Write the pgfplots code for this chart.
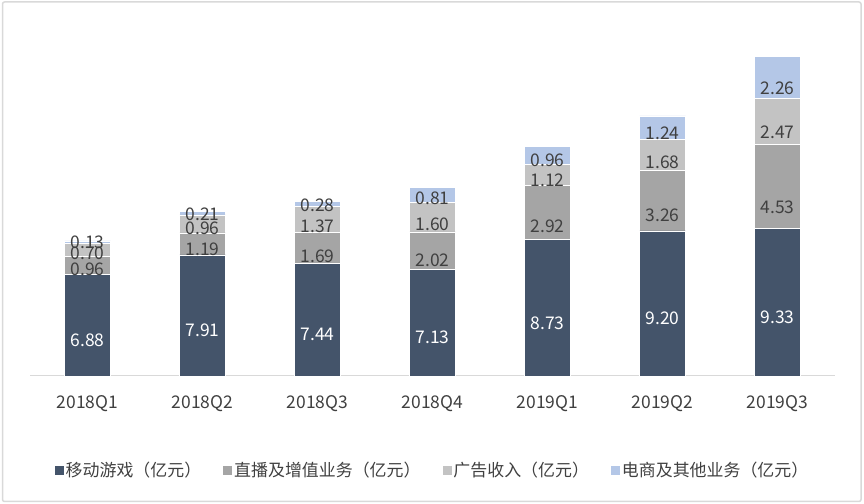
\documentclass[border=0pt]{standalone}
\usepackage{fontspec}
\setmainfont{Noto Sans CJK SC}
\usepackage{pgfplots}
\pgfplotsset{compat=1.18}
\definecolor{c1}{HTML}{44546A}
\definecolor{c2}{HTML}{A5A5A5}
\definecolor{c3}{HTML}{C3C3C3}
\definecolor{c4}{HTML}{B4C7E7}
\definecolor{txt}{HTML}{404040}
\definecolor{framec}{HTML}{D9D9D9}
\pgfplotsset{sqlegend/.style={legend image code/.code={\fill[##1, draw=none] (0bp,-4.5bp) rectangle (9bp,4.5bp);}}}
\newcommand{\lblfont}{\fontsize{17.5}{21}\selectfont}
\newcommand{\legfont}{\fontsize{17}{20}\selectfont}
\begin{document}
\begin{tikzpicture}
\useasboundingbox (0bp,0bp) rectangle (864bp,504bp);
\draw[framec, line width=1.5bp, rounded corners=2bp] (2.5bp,2.5bp) rectangle (861bp,502bp);
\begin{axis}[
  at={(30bp,128bp)}, anchor=south west,
  scale only axis, width=805bp, height=355.26bp,
  xmin=-0.5, xmax=6.5, ymin=1.4, ymax=20.5,
  ybar stacked, bar width=46bp,
  axis x line*=bottom, axis y line=none,
  x axis line style={draw=framec, line width=1bp, -},
  xtick={0,1,2,3,4,5,6},
  xticklabels={2018Q1,2018Q2,2018Q3,2018Q4,2019Q1,2019Q2,2019Q3},
  major tick length=0pt,
  xticklabel style={font=\lblfont, text=txt, yshift=-16bp},
  point meta=explicit symbolic,
  visualization depends on={rawy \as \rawy},
  nodes near coords,
  legend columns=4,
  legend style={at={(0.5,-0.2646)}, anchor=center, draw=none, fill=none,
    font=\legfont, text=txt,
    /tikz/every even column/.append style={column sep=20bp}},
]
\addplot[fill=c1, draw=white, line width=0.5bp, sqlegend,
  every node near coord/.append style={font=\lblfont, text=white, anchor=center, yshift=-2bp}]
  coordinates {(0,6.88) [6.88] (1,7.91) [7.91] (2,7.44) [7.44] (3,7.13) [7.13] (4,8.73) [8.73] (5,9.20) [9.20] (6,9.33) [9.33]};
\addplot[fill=c2, draw=white, line width=0.5bp, sqlegend,
  every node near coord/.append style={font=\lblfont, text=txt, anchor=center, yshift={-\rawy*4.65bp}}]
  coordinates {(0,0.96) [0.96] (1,1.19) [1.19] (2,1.69) [1.69] (3,2.02) [2.02] (4,2.92) [2.92] (5,3.26) [3.26] (6,4.53) [4.53]};
\addplot[fill=c3, draw=white, line width=0.5bp, sqlegend,
  every node near coord/.append style={font=\lblfont, text=txt, anchor=center, yshift={-\rawy*4.65bp}}]
  coordinates {(0,0.70) [0.70] (1,0.96) [0.96] (2,1.37) [1.37] (3,1.60) [1.60] (4,1.12) [1.12] (5,1.68) [1.68] (6,2.47) [2.47]};
\addplot[fill=c4, draw=white, line width=0.5bp, sqlegend,
  every node near coord/.append style={font=\lblfont, text=txt, anchor=center, yshift={-\rawy*4.65bp}}]
  coordinates {(0,0.13) [0.13] (1,0.21) [0.21] (2,0.28) [0.28] (3,0.81) [0.81] (4,0.96) [0.96] (5,1.24) [1.24] (6,2.26) [2.26]};
\legend{移动游戏（亿元）,直播及增值业务（亿元）,广告收入（亿元）,电商及其他业务（亿元）}
\end{axis}
\end{tikzpicture}
\end{document}
